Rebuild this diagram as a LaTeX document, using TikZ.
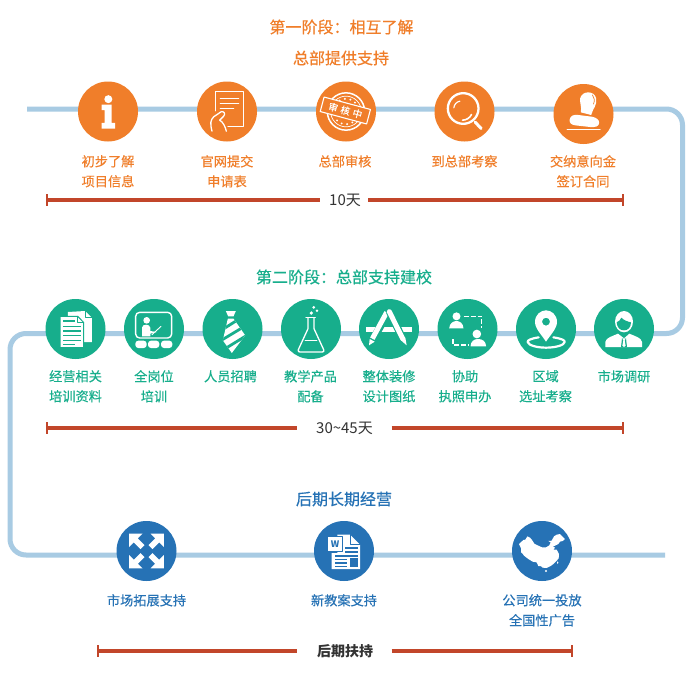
\documentclass[tikz,border=0pt]{standalone}
\usepackage{fontspec}
\setmainfont{Noto Sans CJK SC}
\newfontfamily\capfont[FakeBold=0.25]{Noto Sans CJK SC}
\newfontfamily\headfont[FakeBold=0.45]{Noto Sans CJK SC}
\usetikzlibrary{calc}
\definecolor{orangeC}{HTML}{F07E2A}
\definecolor{greenC}{HTML}{17AE8C}
\definecolor{blueC}{HTML}{2672B5}
\definecolor{pathC}{HTML}{A8CBE3}
\definecolor{barC}{HTML}{C2462A}
\definecolor{greyC}{HTML}{333333}
\newcommand{\zoomat}[5]{\begin{scope}[shift={(#1,#2)},scale=0.3333,shift={(-#3,-#4)},white,line cap=round,line join=round]#5\end{scope}}
\tikzset{
  disc/.style={circle,minimum size=60pt,inner sep=0pt,fill=#1},
  cap1/.style={anchor=north,align=center,inner sep=0pt,font=\capfont\fontsize{13.2}{20}\selectfont,text=#1},
  head1/.style={inner sep=0pt,font=\headfont\fontsize{16}{18}\selectfont,text=#1},
  spanlab/.style={inner sep=0pt,font=\fontsize{15}{16}\selectfont,text=greyC},
  route/.style={draw=pathC,line width=5pt,rounded corners=16pt},
  spanbar/.style={draw=barC,line width=3.4pt},
  spantick/.style={draw=barC,line width=2pt}
}
\begin{document}
\begin{tikzpicture}[x=1pt,y=-1pt]
\useasboundingbox (0,0) rectangle (700,680);
\fill[white] (0,0) rectangle (700,680);
% route
\coordinate (r0) at (27,109);
\coordinate (r1) at (682.5,109);
\coordinate (r2) at (682.5,333.5);
\coordinate (r3) at (10,333.5);
\coordinate (r4) at (10,555);
\coordinate (r5) at (665,555);
\draw[route] (r0) -- (r1) -- (r2) -- (r3) -- (r4) -- (r5);
% discs
\node[disc=orangeC] (a1) at (108,111.5) {};
\node[disc=orangeC] (a2) at (227,111.5) {};
\node[disc=orangeC] (a3) at (346,111.5) {};
\node[disc=orangeC] (a4) at (464.5,111.5) {};
\node[disc=orangeC] (a5) at (583.5,114) {};
\node[disc=greenC] (b1) at (75.5,329) {};
\node[disc=greenC] (b2) at (154,329) {};
\node[disc=greenC] (b3) at (232.5,329) {};
\node[disc=greenC] (b4) at (311,329) {};
\node[disc=greenC] (b5) at (389,329) {};
\node[disc=greenC] (b6) at (467.5,329) {};
\node[disc=greenC] (b7) at (546,329) {};
\node[disc=greenC] (b8) at (624,329) {};
\node[disc=blueC] (c1) at (146.5,551) {};
\node[disc=blueC] (c2) at (344,551) {};
\node[disc=blueC] (c3) at (542,551) {};
% headings
\node[head1=orangeC] (t1) at (341.5,27) {第一阶段：相互了解};
\node[head1=orangeC] (t2) at (341,58) {总部提供支持};
\node[head1=greenC] (t3) at (344,277) {第二阶段：总部支持建校};
\node[head1=blueC] (t4) at (344,499) {后期长期经营};
% captions
\node[cap1=orangeC] (la1) at (108,155) {初步了解\\项目信息};
\node[cap1=orangeC] (la2) at (227,155) {官网提交\\申请表};
\node[cap1=orangeC] (la3) at (345,155) {总部审核};
\node[cap1=orangeC] (la4) at (464.5,155) {到总部考察};
\node[cap1=orangeC] (la5) at (583,155) {交纳意向金\\签订合同};
\node[cap1=greenC] (lb1) at (75.5,370) {经营相关\\培训资料};
\node[cap1=greenC] (lb2) at (154,370) {全岗位\\培训};
\node[cap1=greenC] (lb3) at (230.5,370) {人员招聘};
\node[cap1=greenC] (lb4) at (310.5,370) {教学产品\\配备};
\node[cap1=greenC] (lb5) at (389,370) {整体装修\\设计图纸};
\node[cap1=greenC] (lb6) at (465,370) {协助\\执照申办};
\node[cap1=greenC] (lb7) at (545.5,370) {区域\\选址考察};
\node[cap1=greenC] (lb8) at (624,370) {市场调研};
\node[cap1=blueC] (lc1) at (146.5,594) {市场拓展支持};
\node[cap1=blueC] (lc2) at (344,594) {新教案支持};
\node[cap1=blueC] (lc3) at (542,594) {公司统一投放\\全国性广告};
% spans
\node[spanlab] (s1) at (345,200) {10天};
\node[spanlab] (s2) at (344.5,428) {30\textasciitilde 45天};
\node[inner sep=0pt,font=\fontsize{14}{16}\selectfont\bfseries,text=greyC] (s3) at (345,651) {后期扶持};
\coordinate (s1a) at (46.5,200); \coordinate (s1b) at (320,200); \coordinate (s1c) at (368,200); \coordinate (s1d) at (623,200);
\coordinate (s2a) at (46.5,428); \coordinate (s2b) at (297,428); \coordinate (s2c) at (391.5,428); \coordinate (s2d) at (623,428);
\coordinate (s3a) at (98,651); \coordinate (s3b) at (297,651); \coordinate (s3c) at (391.5,651); \coordinate (s3d) at (572,651);
\foreach \k in {s1,s2,s3}{
  \draw[spanbar] (\k a) -- (\k b);
  \draw[spanbar] (\k c) -- (\k d);
  \draw[spantick] ($(\k a)+(0,-6)$) -- ($(\k a)+(0,6)$);
  \draw[spantick] ($(\k d)+(0,-6)$) -- ($(\k d)+(0,6)$);
}
% --- icon: info
\zoomat{108}{111.5}{144}{124}{
  \fill (145,87) circle[radius=12];
  \fill (125,103)--(155,103)--(155,158)--(165,158)--(165,175)--(125,175)--(125,158)--(134,158)--(134,120)--(125,120)--cycle;
}
% --- icon: form and hand
\zoomat{227}{111.5}{500}{124}{
  \draw[line width=1.3pt] (465,122)--(465,65)--(550,65)--(550,168)--(503,168);
  \draw[line width=1.3pt] (480,85)--(535,85) (480,100)--(535,100) (480,115)--(520,115);
  \draw[line width=1.3pt] (455,183) .. controls (449,160) and (450,150) .. (460,140) -- (482,125) .. controls (490,122) and (497,130) .. (490,138) -- (478,150) .. controls (488,155) and (495,170) .. (498,183);
}
% --- icon: seal stamp
\zoomat{346}{111.5}{96}{96}{
  \draw[line width=1.5pt] (96,96) circle[radius=56];
  \draw[line width=.7pt] (96,96) circle[radius=46];
  \foreach \a in {35,60,85,110,135,215,240,265,290,315}
    \fill ($(96,96)+(\a:38)$) circle[radius=3.2];
  \node[rotate=-15,draw=white,fill=orangeC,line width=1.1pt,inner sep=0pt,minimum width=48pt,minimum height=15pt,text=white,font=\headfont\fontsize{9.5}{11}\selectfont] (seal) at (94,93) {审\hspace{3pt}核\hspace{3pt}中};
}
% --- icon: magnifier
\zoomat{464.5}{111.5}{284}{124}{
  \draw[line width=2.3pt] (280,115) circle[radius=46];
  \draw[line width=3pt] (316,156)--(334,175);
  \draw[line width=1.2pt] (252,113) .. controls (253,103) and (260,95) .. (270,93);
  \draw[line width=1.6pt] (278,150) .. controls (290,150) and (300,143) .. (305,133);
}
% --- icon: rubber stamp
\zoomat{583.5}{114}{640}{132}{
  \fill (632,127) .. controls (635,110) and (628,97) .. (630,85) .. controls (635,62) and (672,60) .. (678,85) .. controls (682,105) and (668,115) .. (663,135) -- cycle;
  \fill (598,150) .. controls (600,136) and (612,133) .. (625,135) -- (665,140) .. controls (680,143) and (687,150) .. (687,158) .. controls (687,170) and (675,172) .. (660,171) -- (615,166) .. controls (604,164) and (598,160) .. (598,150) -- cycle;
  \draw[orangeC,line width=.7pt] (667,75) .. controls (673,83) and (674,92) .. (670,102);
  \draw[line width=1pt] (591,177)--(690,177);
}
% --- icon: documents
\zoomat{75.5}{329}{226}{116}{
  \fill (203,65)--(255,62)--(275,82)--(275,155)--(203,155)--cycle;
  \draw[greenC,line width=1pt] (255,62)--(255,82)--(275,82);
  \filldraw[draw=greenC,fill=white,line width=1pt,line join=miter] (180,78)--(233,78)--(250,96)--(250,172)--(180,172)--cycle;
  \draw[greenC,line width=.9pt] (233,78)--(233,96)--(250,96);
  \draw[greenC,line width=1.2pt,line cap=butt] (188,92)--(225,92) (188,108)--(243,108) (188,122)--(243,122) (188,136)--(243,136) (188,150)--(243,150) (188,163)--(225,163);
}
% --- icon: classroom
\zoomat{154}{329}{462}{116}{
  \draw[line width=1.4pt,rounded corners=4pt] (407,66) rectangle (515,143);
  \fill (440,90) circle[radius=10];
  \fill (426,138) -- (426,112) .. controls (426,100) and (450,100) .. (451,112) -- (451,122) -- (470,125) -- (451,130) -- (451,138) -- cycle;
  \draw[line width=.9pt] (456,133)--(483,108);
  \fill[greenC] (400,145) rectangle (525,149);
  \foreach \x in {423,461,500}{
    \fill[rounded corners=3pt] ($(\x,173)+(-17,0)$) -- ($(\x,173)+(-17,-22)$) -- ($(\x,173)+(17,-22)$) -- ($(\x,173)+(17,0)$) -- cycle;
  }
}
% --- icon: tie
\zoomat{232.5}{329}{697}{116}{
  \fill (677,62)--(707,62)--(700,78)--(684,78)--cycle;
  \begin{scope}
    \clip (683,85)--(700,85)--(735,135)--(695,188)--(668,150)--cycle;
    \fill (660,80) rectangle (740,190);
    \draw[greenC,line width=2.8pt,line cap=butt] (660,122)--(720,84) (660,152)--(740,104) (670,178)--(745,132);
  \end{scope}
}
% --- icon: flask
\zoomat{311}{329}{932}{116}{
  \draw[line width=1.3pt] (917,82)--(945,82);
  \draw[line width=1.3pt] (923,82)--(923,115)--(894,178) .. controls (893,183) and (894,185) .. (899,185) -- (966,185) .. controls (970,185) and (971,183) .. (970,178) -- (941,115)--(941,82);
  \draw[line width=.7pt] (914,150)--(950,150);
  \fill (940,51) circle[radius=4.5];
  \fill (950,61) circle[radius=4];
  \fill (933,68) circle[radius=5.5];
}
% --- icon: A with tools
\zoomat{389}{329}{117}{116}{
  \fill (48,110)--(185,110)--(185,125)--(48,125)--cycle;
  \draw[greenC,line width=7.5pt,line cap=butt] (117,62)--(62,160);
  \draw[white,line width=5pt,line cap=butt] (110,66)--(67,145);
  \fill (57,165)--(59,146)--(74,154)--cycle;
  \draw[greenC,line width=7.5pt,line cap=butt] (118,62)--(165,160);
  \draw[white,line width=5pt,line cap=round] (118,64)--(158,145);
  \fill (170,165)--(153,150)--(166,142)--cycle;
}
% --- icon: two persons
\zoomat{467.5}{329}{352}{116}{
  \fill (319,78) circle[radius=12];
  \fill (297,114) .. controls (298,98) and (310,92) .. (319,92) .. controls (328,92) and (339,98) .. (340,114) -- cycle;
  \fill (380,131) circle[radius=13];
  \fill (361,168) .. controls (362,152) and (372,146) .. (384,146) .. controls (396,146) and (407,152) .. (408,168) -- cycle;
  \draw[line width=1.4pt,dash pattern=on 5pt off 2pt,line cap=butt,line join=miter] (340,78)--(394,78)--(394,112);
  \draw[line width=1.4pt,dash pattern=on 5pt off 2pt,line cap=butt,line join=miter] (308,146)--(308,164)--(355,164);
}
% --- icon: map pin
\zoomat{546}{329}{587}{116}{
  \draw[line width=2.2pt] (565,141) .. controls (540,145) and (531,150) .. (532,155) .. controls (534,165) and (560,172) .. (587,172) .. controls (614,172) and (642,165) .. (643,155) .. controls (644,150) and (635,145) .. (609,141);
  \fill[even odd rule] (587,154) .. controls (575,135) and (554,115) .. (554,95) .. controls (554,72) and (572,60) .. (587,60) .. controls (602,60) and (620,72) .. (620,95) .. controls (620,115) and (599,135) .. (587,154) -- cycle (587,94) circle[radius=12];
}
% --- icon: manager
\zoomat{624}{329}{96}{96}{
  \fill (96,74) ellipse[x radius=27,y radius=32];
  \fill[greenC] (74,76) .. controls (82,74) and (86,66) .. (88,62) .. controls (95,70) and (108,74) .. (117,76) .. controls (117,92) and (107,100) .. (96,100) .. controls (84,100) and (75,92) .. (74,76) -- cycle;
  \fill (40,150) -- (40,135) .. controls (42,122) and (60,118) .. (78,110) -- (96,124) -- (112,110) .. controls (130,118) and (148,122) .. (150,135) -- (150,150) -- cycle;
  \fill[greenC] (90,124)--(102,124)--(105,150)--(87,150)--cycle;
  \fill (91,124)--(101,124)--(98,131)--(101,146)--(96,150)--(91,146)--(94,131)--cycle;
}
% --- icon: four arrows
\foreach \a in {0,90,180,270}{
\begin{scope}[shift={(146.5,551)},rotate=\a,scale=0.3333]
  \fill[white] (-52,-52)--(-12,-52)--(-26,-38)--(-6,-18)--(-18,-6)--(-38,-26)--(-52,-12)--cycle;
\end{scope}
}
% --- icon: word document
\zoomat{344}{551}{732}{124}{
  \fill (712,75)--(750,75)--(780,105)--(780,178)--(695,178)--(695,130)--(712,130)--cycle;
  \draw[blueC,line width=.8pt] (750,75)--(750,105)--(780,105);
  \filldraw[fill=white,draw=blueC,line width=.8pt] (683,80) rectangle (728,126);
  \node[inner sep=0pt,text=blueC,font=\fontsize{9}{10}\selectfont\bfseries] (wmark) at (705,103) {W};
  \draw[blueC,line width=1.1pt,line cap=butt] (735,115)--(774,115) (735,127)--(774,127) (705,139)--(774,139) (705,150)--(742,150) (705,160)--(742,160) (705,170)--(742,170);
  \fill[blueC] (750,146) rectangle (775,171);
}
% --- icon: China map
\zoomat{542}{551}{96}{96}{
  \fill (27,75)--(40,63)--(46,62)--(52,52)--(60,56)--(66,63)--(73,74)--(85,80)--(96,85)--(108,85)--(118,79)--(122,70)--(115,66)--(125,65)--(132,52)--(140,47)--(150,45)--(157,52)--(165,60)--(158,66)--(150,68)--(145,75)--(135,80)--(128,82)--(135,86)--(130,92)--(140,92)--(147,105)--(146,118)--(140,125)--(130,135)--(122,141)--(110,147)--(98,146)--(92,141)--(85,141)--(80,130)--(68,128)--(55,120)--(42,110)--(38,104)--(33,100)--(33,88)--cycle;
  \fill (108,156) circle[radius=3.2];
  \fill (143,131) ellipse[x radius=2,y radius=4];
}
\end{tikzpicture}
\end{document}
